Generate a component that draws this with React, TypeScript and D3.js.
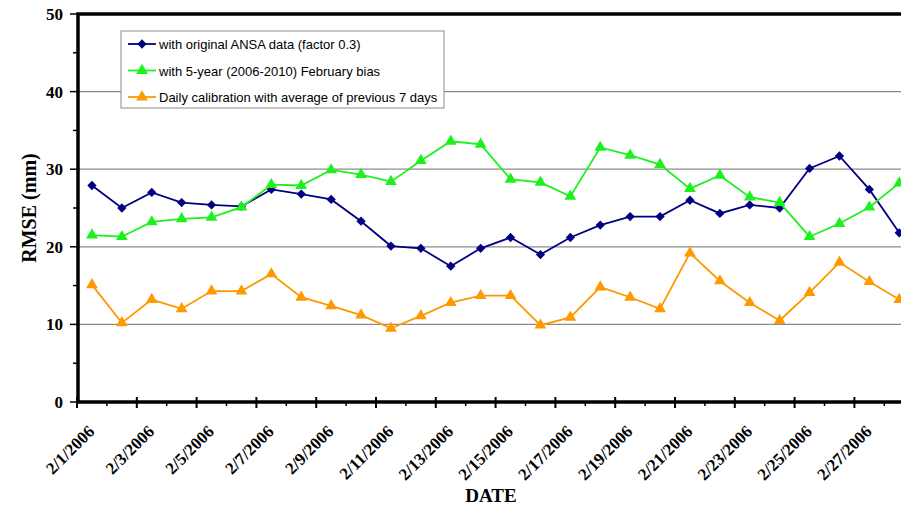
import * as d3 from "d3";

const dates = [
  "2/1/2006", "2/2/2006", "2/3/2006", "2/4/2006", "2/5/2006", "2/6/2006", "2/7/2006",
  "2/8/2006", "2/9/2006", "2/10/2006", "2/11/2006", "2/12/2006", "2/13/2006", "2/14/2006",
  "2/15/2006", "2/16/2006", "2/17/2006", "2/18/2006", "2/19/2006", "2/20/2006", "2/21/2006",
  "2/22/2006", "2/23/2006", "2/24/2006", "2/25/2006", "2/26/2006", "2/27/2006", "2/28/2006",
];

const ansaOriginal = [
  27.9, 25.0, 27.0, 25.7, 25.4, 25.2, 27.4, 26.8, 26.1, 23.3, 20.1, 19.8, 17.5, 19.8,
  21.2, 19.0, 21.2, 22.8, 23.9, 23.9, 26.0, 24.3, 25.4, 25.0, 30.1, 31.7, 27.4, 21.8,
];

const fiveYearBias = [
  21.5, 21.3, 23.2, 23.6, 23.8, 25.1, 28.0, 27.9, 29.9, 29.3, 28.4, 31.1, 33.6, 33.2,
  28.7, 28.3, 26.5, 32.8, 31.8, 30.6, 27.5, 29.2, 26.4, 25.7, 21.3, 23.0, 25.1, 28.2,
];

const dailyCalibration = [
  15.1, 10.2, 13.2, 12.0, 14.3, 14.3, 16.5, 13.5, 12.4, 11.2, 9.5, 11.1, 12.8, 13.7,
  13.7, 9.9, 10.9, 14.8, 13.5, 12.0, 19.2, 15.6, 12.8, 10.5, 14.1, 18.0, 15.5, 13.2,
];

const yTicks = [0, 10, 20, 30, 40, 50];
const yMinorTicks = [5, 15, 25, 35, 45];

const series = [
  { name: "with original ANSA data (factor 0.3)", values: ansaOriginal, color: "#000080", marker: "diamond" },
  { name: "with 5-year (2006-2010) February bias", values: fiveYearBias, color: "#1ef01e", marker: "triangle" },
  { name: "Daily calibration with average of previous 7 days", values: dailyCalibration, color: "#ff9900", marker: "triangle" },
];

const width = 901;
const height = 505;
const plot = { left: 77, top: 14, bottom: 402, band: 29.9 };

const serif = "'Liberation Serif', 'Times New Roman', serif";
const sans = "'Liberation Sans', Arial, sans-serif";

function Marker({ type, x, y, color }: { type: string; x: number; y: number; color: string }) {
  const symbol = d3
    .symbol()
    .type(type === "diamond" ? d3.symbolDiamond2 : d3.symbolTriangle)
    .size(type === "diamond" ? 55 : 60);
  return <path d={symbol() ?? ""} transform={`translate(${x}, ${y})`} fill={color} />;
}

export default function App() {
  const xScale = d3
    .scaleBand()
    .domain(dates)
    .range([plot.left, plot.left + dates.length * plot.band])
    .paddingInner(0)
    .paddingOuter(0);
  const yScale = d3.scaleLinear().domain([0, 50]).range([plot.bottom, plot.top]);
  const cx = (d: string) => (xScale(d) ?? 0) + xScale.bandwidth() / 2;
  const plotRight = plot.left + dates.length * plot.band;

  const line = d3
    .line<number>()
    .x((_, i) => cx(dates[i]))
    .y((v) => yScale(v));

  return (
    <>
      <style>{`body { margin: 0; }`}</style>
      <svg width={width} height={height} style={{ display: "block", background: "#fff" }}>
        {/* gridlines */}
        {yTicks.slice(1, -1).map((t) => (
          <line key={`g-${t}`} x1={plot.left} x2={plotRight} y1={yScale(t)} y2={yScale(t)} stroke="#8c8c8c" strokeWidth={1.2} />
        ))}

        {/* y ticks */}
        {yTicks.map((t) => (
          <g key={`y-${t}`}>
            <line x1={plot.left - 7} x2={plot.left} y1={yScale(t)} y2={yScale(t)} stroke="#000" strokeWidth={1.5} />
            <text x={63} y={yScale(t) + 6} textAnchor="end" fontFamily={serif} fontWeight="bold" fontSize={17}>
              {t}
            </text>
          </g>
        ))}
        {yMinorTicks.map((t) => (
          <line key={`ym-${t}`} x1={plot.left - 4} x2={plot.left} y1={yScale(t)} y2={yScale(t)} stroke="#000" strokeWidth={1.5} />
        ))}

        {/* x ticks */}
        {dates.map((d, i) => {
          const x = xScale(d) ?? 0;
          return i % 2 === 0 ? (
            <line key={`xt-${d}`} x1={x} x2={x} y1={plot.bottom - 5} y2={plot.bottom + 6} stroke="#000" strokeWidth={2} />
          ) : (
            <line key={`xt-${d}`} x1={x} x2={x} y1={plot.bottom} y2={plot.bottom + 4} stroke="#000" strokeWidth={1.5} />
          );
        })}
        {dates.map((d, i) =>
          i % 2 === 0 ? (
            <text
              key={`xl-${d}`}
              transform={`translate(${cx(d) - 5}, ${plot.bottom + 22}) rotate(-45)`}
              textAnchor="end"
              dominantBaseline="hanging"
              fontFamily={serif}
              fontWeight="bold"
              fontSize={17}
            >
              {d}
            </text>
          ) : null,
        )}

        {/* plot frame */}
        <rect x={plot.left + 1} y={plot.top} width={plotRight - plot.left} height={plot.bottom - plot.top} fill="none" stroke="#000" strokeWidth={3.5} />

        {/* series */}
        {series.map((s) => (
          <g key={s.name}>
            <path d={line(s.values) ?? ""} fill="none" stroke={s.color} strokeWidth={1.8} />
            {s.values.map((v, i) => (
              <Marker key={i} type={s.marker} x={cx(dates[i])} y={yScale(v)} color={s.color} />
            ))}
          </g>
        ))}

        {/* legend */}
        <g>
          <rect x={121} y={31} width={323} height={77} fill="#fff" stroke="#8c8c8c" strokeWidth={1} />
          {series.map((s, i) => {
            const y = 44 + i * 26.5;
            return (
              <g key={`lg-${s.name}`}>
                <line x1={128} x2={156} y1={y} y2={y} stroke={s.color} strokeWidth={1.8} />
                <Marker type={s.marker} x={142} y={y} color={s.color} />
                <text x={159} y={y + 5} fontFamily={sans} fontSize={13} fill="#000">
                  {s.name}
                </text>
              </g>
            );
          })}
        </g>

        {/* axis titles */}
        <text
          transform={`translate(36, 208) rotate(-90)`}
          textAnchor="middle"
          fontFamily={serif}
          fontWeight="bold"
          fontSize={20}
        >
          RMSE (mm)
        </text>
        <text x={491} y={502} textAnchor="middle" fontFamily={serif} fontWeight="bold" fontSize={19}>
          DATE
        </text>
      </svg>
    </>
  );
}
